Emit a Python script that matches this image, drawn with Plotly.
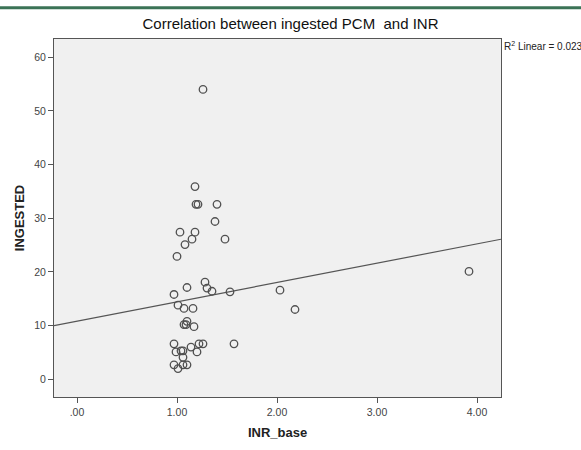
import numpy as np
import plotly.graph_objects as go

inr_base = [1.26, 1.18, 1.19, 1.21, 1.40, 1.38, 1.03, 1.18, 1.15, 1.48,
            1.08, 1.00, 1.28, 1.10, 1.30, 1.35, 1.53, 0.97, 1.01, 1.07,
            1.16, 1.10, 1.07, 1.09, 1.17, 0.97, 1.22, 1.26, 1.57, 1.14,
            0.99, 1.04, 1.06, 1.20, 1.06, 0.97, 1.06, 1.10, 1.01, 2.03,
            2.18, 3.92]
ingested = [54.0, 35.9, 32.6, 32.6, 32.6, 29.4, 27.4, 27.4, 26.1, 26.1,
            25.1, 22.9, 18.1, 17.1, 17.0, 16.4, 16.3, 15.8, 13.8, 13.2,
            13.2, 10.8, 10.2, 10.2, 9.8, 6.6, 6.6, 6.6, 6.6, 6.0,
            5.1, 5.3, 5.3, 5.1, 4.1, 2.7, 2.7, 2.7, 2.0, 16.6,
            13.0, 20.1]

# fit line as printed in the reference (R2 Linear = 0.023)
fit_intercept = 10.83
fit_slope = 3.6
r2_linear = 0.023

x_tick_vals = [0, 1, 2, 3, 4]
x_tick_text = [".00", "1.00", "2.00", "3.00", "4.00"]
y_tick_vals = [0, 10, 20, 30, 40, 50, 60]
x_range = [-0.23, 4.24]
y_range = [-3.3, 63.4]

fit_x = np.array(x_range)
fit_y = fit_intercept + fit_slope * fit_x

fig = go.Figure()
fig.add_trace(go.Scatter(
    x=fit_x, y=fit_y, mode="lines",
    line=dict(color="#555555", width=1.2), hoverinfo="skip", showlegend=False))
fig.add_trace(go.Scatter(
    x=inr_base, y=ingested, mode="markers",
    marker=dict(symbol="circle-open", size=7.5, color="#505050",
                line=dict(width=1.3, color="#505050")),
    showlegend=False))

font_fam = "Arial, Liberation Sans, sans-serif"
fig.update_layout(
    width=581, height=450,
    margin=dict(l=54, r=80, t=39, b=43),
    paper_bgcolor="white", plot_bgcolor="#F0F0F0",
    font=dict(family=font_fam, color="#333333", size=10),
    title=dict(text="Correlation between ingested PCM  and INR",
               x=0.5, xref="container", xanchor="center",
               y=1 - 24 / 450, yref="container", yanchor="middle",
               font=dict(size=15, color="#111111", family=font_fam)),
    xaxis=dict(range=x_range, tickvals=x_tick_vals, ticktext=x_tick_text,
               showgrid=False, zeroline=False, showline=True, mirror=True,
               linecolor="#555555", linewidth=1, ticks="outside", ticklen=5,
               tickcolor="#555555", tickfont=dict(size=10.5, color="#444444"),
               title=dict(text="<b>INR_base</b>", standoff=11,
                          font=dict(size=13, color="#222222"))),
    yaxis=dict(range=y_range, tickvals=y_tick_vals,
               showgrid=False, zeroline=False, showline=True, mirror=True,
               linecolor="#555555", linewidth=1, ticks="outside", ticklen=5,
               tickcolor="#555555", tickfont=dict(size=10.5, color="#444444"),
               title=dict(text="<b>INGESTED</b>", standoff=6,
                          font=dict(size=13, color="#222222"))),
    shapes=[dict(type="line", xref="paper", yref="paper",
                 x0=-54 / 447, x1=527 / 447, y0=400 / 368, y1=400 / 368,
                 line=dict(color="#3b7356", width=3))],
    annotations=[dict(text="R<sup>2</sup> Linear = %.3f" % r2_linear,
                      xref="paper", yref="paper", x=1.0, y=1.0,
                      xanchor="left", yanchor="top", showarrow=False,
                      xshift=1, yshift=1,
                      font=dict(size=10, color="#222222"))],
)

fig.write_html("out.html")
